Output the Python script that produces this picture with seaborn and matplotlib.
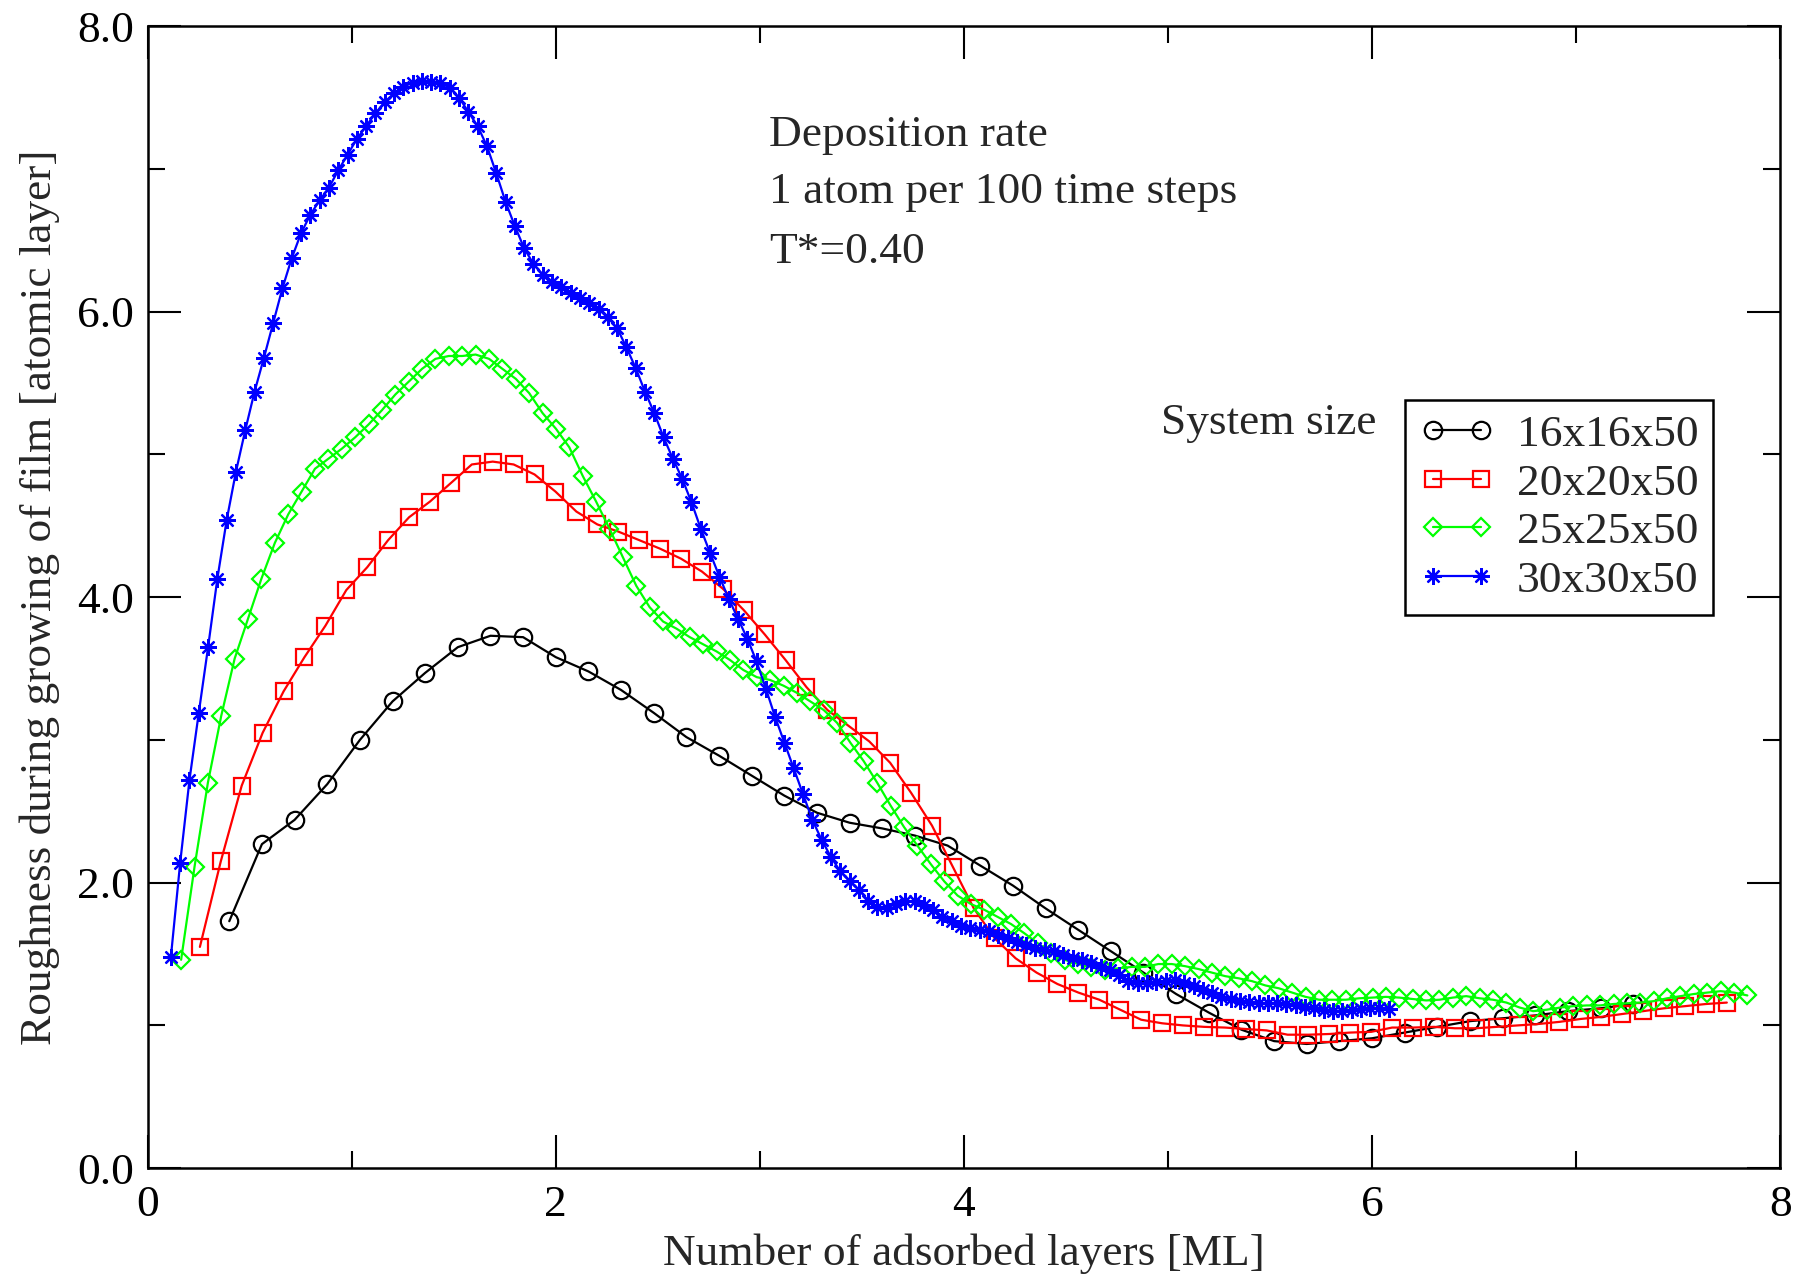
import numpy as np
import pandas as pd
import matplotlib
matplotlib.use("Agg")
import matplotlib.pyplot as plt
import seaborn as sns
from matplotlib.ticker import MultipleLocator, FormatStrFormatter

# System sizes (lateral x lateral x height)
sizes = ["16x16x50", "20x20x50", "25x25x50", "30x30x50"]

# Coverage grid of each run: first sample and spacing [ML]
start_16, step_16 = 0.400, 0.16
start_20, step_20 = 0.256, 0.1025
start_25, step_25 = 0.164, 0.0656
start_30, step_30 = 0.1139, 0.045556

# Surface roughness [atomic layer] at each sample
rough_16 = [1.73, 2.27, 2.44, 2.69, 3.00, 3.27, 3.47, 3.65, 3.73, 3.72,
            3.58, 3.48, 3.35, 3.19, 3.02, 2.89, 2.75, 2.61, 2.49, 2.42,
            2.38, 2.33, 2.26, 2.12, 1.98, 1.82, 1.67, 1.52, 1.37, 1.22,
            1.09, 0.97, 0.89, 0.87, 0.89, 0.91, 0.95, 0.99, 1.03, 1.05,
            1.07, 1.10, 1.12, 1.15]

rough_20 = [1.55, 2.15, 2.68, 3.05, 3.34, 3.58, 3.80, 4.05, 4.21, 4.40,
            4.56, 4.67, 4.80, 4.93, 4.95, 4.93, 4.86, 4.74, 4.60, 4.51,
            4.46, 4.40, 4.34, 4.27, 4.18, 4.06, 3.91, 3.74, 3.56, 3.37,
            3.21, 3.10, 2.99, 2.84, 2.63, 2.40, 2.11, 1.82, 1.61, 1.47,
            1.37, 1.29, 1.23, 1.18, 1.11, 1.04, 1.015, 1.00, 0.99, 0.985,
            0.975, 0.965, 0.935, 0.935, 0.94, 0.95, 0.955, 0.985, 0.985, 0.99,
            0.98, 0.98, 0.99, 1.00, 1.01, 1.025, 1.045, 1.06, 1.08, 1.10,
            1.12, 1.135, 1.15, 1.16]

rough_25 = [1.46, 2.11, 2.70, 3.17, 3.57, 3.85, 4.13, 4.38, 4.58, 4.74,
            4.90, 4.97, 5.04, 5.12, 5.21, 5.31, 5.42, 5.51, 5.60, 5.67,
            5.69, 5.69, 5.70, 5.67, 5.60, 5.53, 5.43, 5.29, 5.18, 5.05,
            4.85, 4.67, 4.48, 4.28, 4.08, 3.93, 3.83, 3.78, 3.72, 3.67,
            3.62, 3.56, 3.49, 3.44, 3.42, 3.38, 3.33, 3.27, 3.21, 3.12,
            2.98, 2.85, 2.70, 2.54, 2.39, 2.26, 2.13, 2.01, 1.91, 1.85,
            1.81, 1.76, 1.71, 1.645, 1.575, 1.505, 1.46, 1.43, 1.41, 1.39,
            1.40, 1.41, 1.41, 1.43, 1.43, 1.415, 1.395, 1.37, 1.345, 1.33,
            1.31, 1.28, 1.26, 1.23, 1.20, 1.18, 1.18, 1.18, 1.19, 1.195,
            1.20, 1.195, 1.185, 1.175, 1.18, 1.195, 1.205, 1.19, 1.18, 1.16,
            1.125, 1.10, 1.11, 1.125, 1.135, 1.14, 1.14, 1.15, 1.155, 1.16,
            1.17, 1.19, 1.205, 1.22, 1.23, 1.24, 1.23, 1.21]

rough_30 = [1.48, 2.14, 2.72, 3.19, 3.65, 4.13, 4.54, 4.88, 5.17, 5.44,
            5.675, 5.92, 6.165, 6.375, 6.55, 6.68, 6.78, 6.87, 6.99, 7.10,
            7.21, 7.30, 7.39, 7.47, 7.53, 7.575, 7.605, 7.62, 7.61, 7.60,
            7.57, 7.50, 7.40, 7.30, 7.16, 6.97, 6.77, 6.60, 6.445, 6.335,
            6.26, 6.21, 6.17, 6.13, 6.095, 6.06, 6.02, 5.96, 5.885, 5.75,
            5.605, 5.44, 5.29, 5.12, 4.97, 4.83, 4.665, 4.48, 4.31, 4.145,
            3.99, 3.85, 3.71, 3.55, 3.36, 3.16, 2.98, 2.80, 2.62, 2.44,
            2.30, 2.18, 2.08, 2.01, 1.95, 1.875, 1.83, 1.825, 1.85, 1.87,
            1.87, 1.845, 1.81, 1.76, 1.73, 1.70, 1.68, 1.67, 1.66, 1.63,
            1.61, 1.585, 1.56, 1.54, 1.53, 1.52, 1.49, 1.47, 1.46, 1.435,
            1.41, 1.39, 1.35, 1.31, 1.295, 1.295, 1.303, 1.314, 1.315, 1.30,
            1.275, 1.25, 1.228, 1.20, 1.185, 1.17, 1.164, 1.158, 1.155, 1.155,
            1.15, 1.143, 1.13, 1.12, 1.108, 1.103, 1.103, 1.108, 1.113, 1.12,
            1.12, 1.113]

x_ticks = [0, 2, 4, 6, 8]
y_ticks = [0.0, 2.0, 4.0, 6.0, 8.0]

runs = {
    "16x16x50": (start_16, step_16, rough_16),
    "20x20x50": (start_20, step_20, rough_20),
    "25x25x50": (start_25, step_25, rough_25),
    "30x30x50": (start_30, step_30, rough_30),
}

frames = []
for name in sizes:
    x0, dx, r = runs[name]
    cov = x0 + dx * np.arange(len(r))
    frames.append(pd.DataFrame({"coverage": cov, "roughness": r, "system": name}))
df = pd.concat(frames, ignore_index=True)

sns.set_theme(style="ticks")
plt.rcParams["font.family"] = ["Liberation Serif", "DejaVu Serif"]

FS = 32.7

styles = {
    "16x16x50": dict(color="black", marker="o", markersize=12.5),
    "20x20x50": dict(color="#ff0000", marker="s", markersize=11.5),
    "25x25x50": dict(color="#00ff00", marker="D", markersize=8.8),
    "30x30x50": dict(color="#0000ff", marker=(8, 2, 0), markersize=12),
}

fig = plt.figure(figsize=(17.94, 12.75), dpi=100)
ax = fig.add_axes([0.0823, 0.0838, 0.9100, 0.8956])

for name in sizes:
    st = styles[name]
    sns.lineplot(data=df[df["system"] == name], x="coverage", y="roughness",
                 ax=ax, estimator=None, sort=False, label=name,
                 color=st["color"], linewidth=1.6,
                 marker=st["marker"], markersize=st["markersize"],
                 markerfacecolor="none", markeredgecolor=st["color"],
                 markeredgewidth=1.6)

ax.set_xlim(0, 8)
ax.set_ylim(0, 8)
ax.set_xticks(x_ticks)
ax.set_yticks(y_ticks)
ax.xaxis.set_minor_locator(MultipleLocator(1))
ax.yaxis.set_minor_locator(MultipleLocator(1))
ax.yaxis.set_major_formatter(FormatStrFormatter("%.1f"))
ax.xaxis.set_major_formatter(FormatStrFormatter("%d"))

ax.tick_params(which="both", direction="in", top=True, right=True,
               width=1.5, colors="black", labelsize=FS)
ax.tick_params(which="major", length=23.8)
ax.tick_params(which="minor", length=12.2)
ax.tick_params(axis="x", which="major", pad=12)
ax.tick_params(axis="y", which="major", pad=10)

for sp in ax.spines.values():
    sp.set_visible(True)
    sp.set_linewidth(1.8)
    sp.set_color("black")

ax.set_xlabel("Number of adsorbed layers [ML]", fontsize=FS, labelpad=6)
ax.set_ylabel("Roughness during growing of film [atomic layer]", fontsize=FS, labelpad=12.5)

ax.text(3.045, 7.24, "Deposition rate", fontsize=FS, ha="left", va="center")
ax.text(3.045, 6.84, "1 atom per 100 time steps", fontsize=FS, ha="left", va="center")
ax.text(3.045, 6.42, "T*=0.40", fontsize=FS, ha="left", va="center")
ax.text(6.02, 5.22, "System size", fontsize=FS, ha="right", va="center")

handles, labels = ax.get_legend_handles_labels()
leg = ax.legend(handles, labels, loc="upper left", bbox_to_anchor=(0.770, 0.6727),
                numpoints=2, frameon=True, fancybox=False, edgecolor="black",
                framealpha=1, handlelength=1.65, handletextpad=0.5,
                labelspacing=0.17, borderpad=0.32, borderaxespad=0, fontsize=FS)
leg.get_frame().set_linewidth(1.8)

fig.savefig("out.png", dpi=100)
